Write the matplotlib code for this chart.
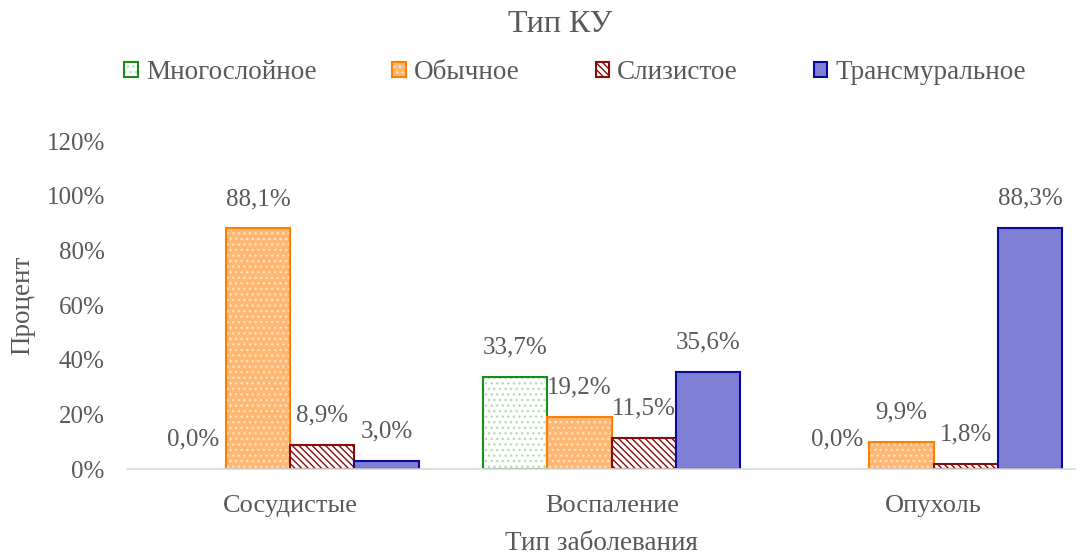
import numpy as np
import matplotlib.pyplot as plt
from matplotlib.patches import Patch
from matplotlib.legend_handler import HandlerTuple

plt.rcParams['font.family'] = ['Liberation Serif', 'DejaVu Serif']
plt.rcParams['hatch.linewidth'] = 1.0

categories = ["Сосудистые", "Воспаление", "Опухоль"]
series = ["Многослойное", "Обычное", "Слизистое", "Трансмуральное"]
mnogosloinoe = [0.0, 33.7, 0.0]
obychnoe = [88.1, 19.2, 9.9]
slizistoe = [8.9, 11.5, 1.8]
transmuralnoe = [3.0, 35.6, 88.3]
yticks = [0, 20, 40, 60, 80, 100, 120]

values = [mnogosloinoe, obychnoe, slizistoe, transmuralnoe]
# face colour, hatch, hatch colour, edge colour
styles = [
    ("white", "...", "#b5deb5", "#1a8c1a"),
    ("#ffb772", "...", "#ffe2c4", "#ff8000"),
    ("white", "\\\\\\\\\\", "#8b0a0a", "#8b0a0a"),
    ("#7f7fd6", "", "#7f7fd6", "#0a0a9a"),
]
text_c = "#595959"

fig = plt.figure(figsize=(10.81, 5.6), dpi=100)
ax = fig.add_axes([0.1175, 0.1625, 0.877, 0.5855])

x = np.arange(len(categories))
w = 0.2
handles = []
for i, (vals, (fc, hatch, hc, ec)) in enumerate(zip(values, styles)):
    pos = x + (i - 1.5) * w
    lws = [1.5 if v > 0 else 0 for v in vals]
    ax.bar(pos, vals, w, color=fc, hatch=hatch, edgecolor=hc, linewidth=0)
    ax.bar(pos, vals, w, fill=False, edgecolor=ec, linewidth=lws)
    # legend proxy: hatched fill + outline drawn on top
    handles.append((Patch(facecolor=fc, hatch=hatch, edgecolor=hc, linewidth=0),
                    Patch(fill=False, edgecolor=ec, linewidth=1.5)))
    for p, v in zip(pos, vals):
        ax.annotate(f"{v:.1f}%".replace(".", ","), (p, v), xytext=(0, 21),
                    textcoords="offset points", ha="center", va="center",
                    fontsize=18, color=text_c)

ax.set_ylim(0, 120)
ax.set_xlim(-0.507, 2.44)
ax.set_yticks(yticks)
ax.set_yticklabels([f"{t}%" for t in yticks])
ax.set_xticks(x)
ax.set_xticklabels(categories)
ax.tick_params(length=0, labelsize=18, labelcolor=text_c)
ax.tick_params(axis='x', pad=19, labelsize=19)
ax.tick_params(axis='y', pad=16)
for s in ["top", "right", "left"]:
    ax.spines[s].set_visible(False)
ax.spines["bottom"].set_color("#d9d9d9")
ax.spines["bottom"].set_linewidth(1.2)

ax.set_ylabel("Процент", fontsize=19.5, color=text_c, labelpad=8)
ax.set_xlabel("Тип заболевания", fontsize=19.5, color=text_c, labelpad=10)

fig.text(0.518, 0.957, "Тип КУ", ha="center", va="center", fontsize=23, color=text_c)
leg = fig.legend(handles, series, loc="center", bbox_to_anchor=(0.532, 0.87), ncol=4,
                 frameon=False, fontsize=19.5, handlelength=0.5, handleheight=0.5,
                 handletextpad=0.3, columnspacing=2.8,
                 handler_map={tuple: HandlerTuple(ndivide=1, pad=0)})
for t in leg.get_texts():
    t.set_color(text_c)

fig.savefig("out.png", dpi=100)
